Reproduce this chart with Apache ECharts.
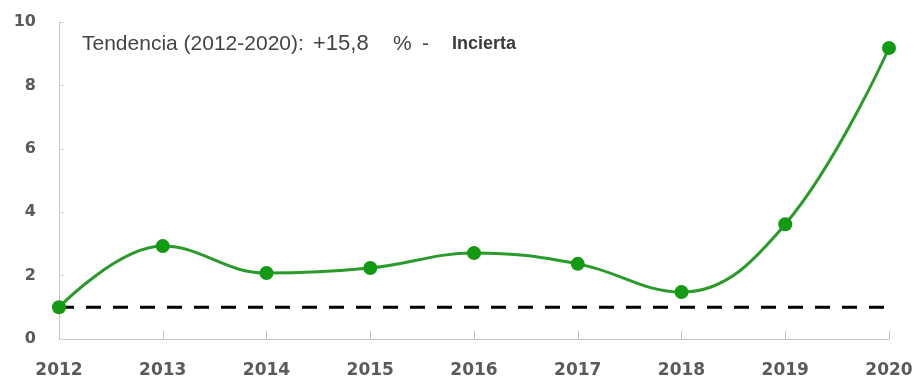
<!DOCTYPE html>
<html><head><meta charset="utf-8">
<script src="https://cdn.jsdelivr.net/npm/echarts@6/dist/echarts.min.js"></script>
<style>html,body{margin:0;padding:0;background:#fff}#c{width:918px;height:378px}</style>
</head><body><div id="c"></div>
<script>
const years = ['2012','2013','2014','2015','2016','2017','2018','2019','2020'];
const values = [1.0, 2.93, 2.08, 2.24, 2.71, 2.37, 1.48, 3.62, 9.18];
const reference = [1, 1, 1, 1, 1, 1, 1, 1, 1];
const yTicks = [0, 2, 4, 6, 8, 10];
const notePeriod = 'Tendencia (2012-2020):';
const noteChange = '+15,8';
const noteUnit = '%';
const noteSep = '-';
const noteBold = 'Incierta';

const chart = echarts.init(document.getElementById('c'));
chart.setOption({
  animation: false,
  grid: {left: 59, right: 29, top: 22, bottom: 39, outerBoundsMode: 'none', containLabel: false},
  xAxis: {
    type: 'category', data: years, boundaryGap: false,
    axisLine: {lineStyle: {color: '#c4c4c4', width: 1}},
    axisTick: {show: true, inside: true, length: 8, lineStyle: {color: '#c4c4c4'}},
    axisLabel: {color: '#5a5a5a', fontFamily: 'DejaVu Sans', fontWeight: 'bold', fontSize: 17, margin: 23}
  },
  yAxis: {
    type: 'value', min: yTicks[0], max: yTicks[yTicks.length-1], interval: 2,
    axisLine: {show: true, lineStyle: {color: '#c4c4c4', width: 1}},
    axisTick: {show: true, inside: true, length: 5, lineStyle: {color: '#d4d4d4'}},
    splitLine: {show: false},
    axisLabel: {color: '#5a5a5a', fontFamily: 'DejaVu Sans', fontWeight: 'bold', fontSize: 16, margin: 23}
  },
  graphic: [{
    type: 'text', x: 82, y: 33,
    style: {
      text: '{a|' + notePeriod + '}{b|' + noteChange + '}{c|' + noteUnit + '}{d|' + noteSep + '}{e|' + noteBold + '}',
      rich: {
        a: {fill: '#444', fontFamily: 'Liberation Sans', fontSize: 21, width: 231},
        b: {fill: '#444', fontFamily: 'Liberation Sans', fontSize: 22, width: 80},
        c: {fill: '#444', fontFamily: 'Liberation Sans', fontSize: 21, width: 29},
        d: {fill: '#444', fontFamily: 'Liberation Sans', fontSize: 21, width: 30},
        e: {fill: '#3a3a3a', fontFamily: 'Liberation Sans', fontSize: 18, fontWeight: 'bold'}
      }
    }
  }],
  series: [{
    type: 'line', data: reference, symbol: 'none',
    lineStyle: {color: '#000', width: 3, type: [15, 12]},
    z: 1
  }, {
    type: 'line', data: values, smooth: 0.4,
    symbol: 'circle', symbolSize: 14,
    itemStyle: {color: '#139a13'},
    lineStyle: {color: '#2a9a2a', width: 3},
    z: 2
  }]
});
</script></body></html>
